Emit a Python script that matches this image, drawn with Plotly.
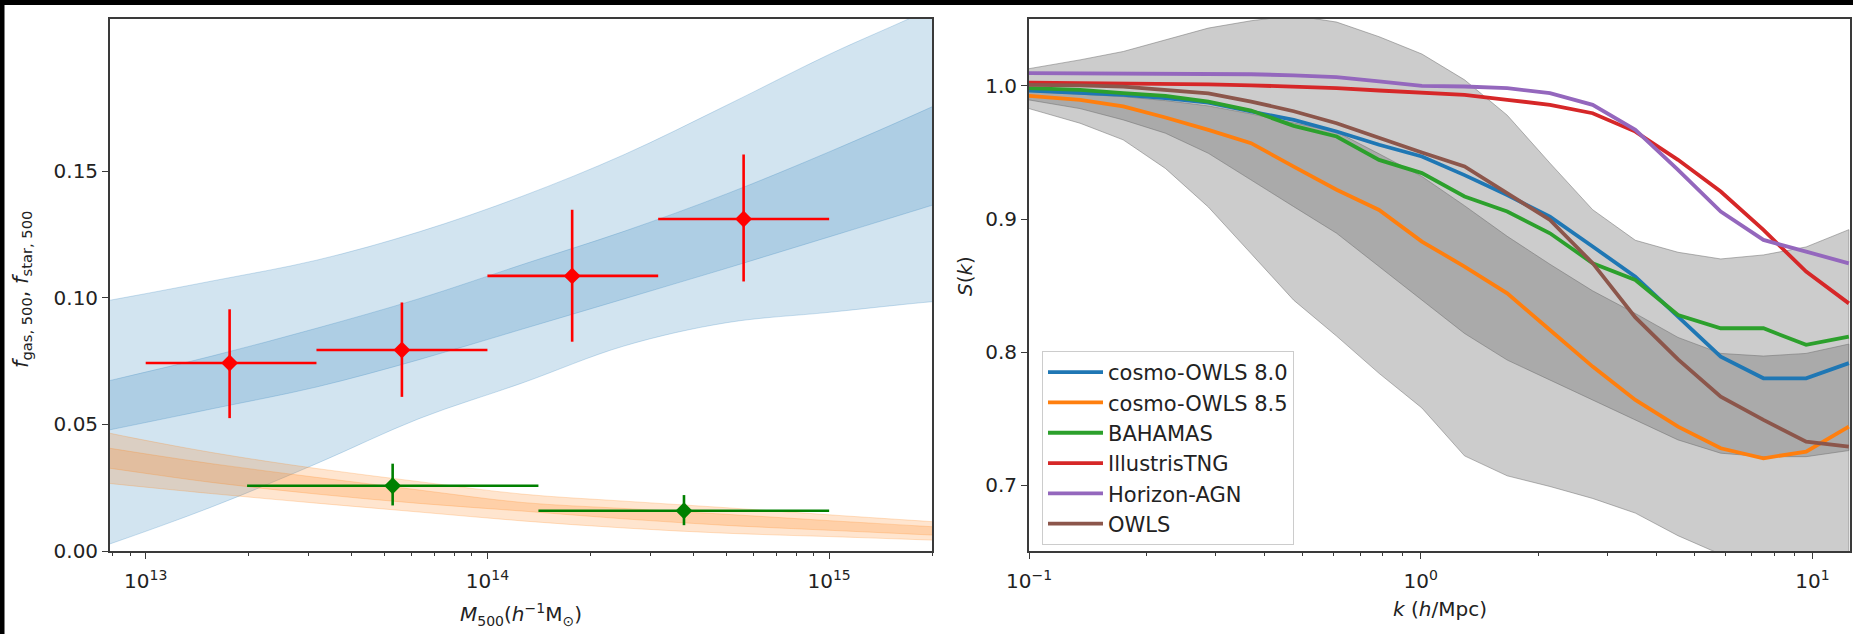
import plotly.graph_objects as go

# ---------------- left panel: gas and stellar mass fractions ----------------
band_mass = [5.0e12, 7.94e12, 1.58e13, 3.16e13, 6.31e13, 1.26e14, 2.51e14, 5.01e14,
             1.00e15, 2.00e15, 3.16e15]
gas_outer_hi = [0.0945, 0.0992, 0.1068, 0.1149, 0.1261, 0.1401, 0.1566, 0.1761, 0.1962, 0.2146, 0.2290]
gas_outer_lo = [-0.0060, 0.0030, 0.0177, 0.0345, 0.0523, 0.0663, 0.0810, 0.0902, 0.0943, 0.0985, 0.1005]
gas_inner_hi = [0.0612, 0.0675, 0.0772, 0.0880, 0.0997, 0.1131, 0.1263, 0.1411, 0.1577, 0.1755, 0.1880]
gas_inner_lo = [0.0425, 0.0480, 0.0563, 0.0648, 0.0756, 0.0876, 0.0996, 0.1117, 0.1241, 0.1366, 0.1450]
star_outer_hi = [0.0525, 0.0464, 0.0388, 0.0326, 0.0274, 0.0225, 0.0197, 0.0171, 0.0143, 0.0116, 0.0098]
star_inner_hi = [0.0450, 0.0405, 0.0344, 0.0291, 0.0241, 0.0192, 0.0168, 0.0145, 0.0120, 0.0096, 0.0080]
star_inner_lo = [0.0365, 0.0326, 0.0270, 0.0225, 0.0188, 0.0158, 0.0127, 0.0101, 0.0082, 0.0063, 0.0050]
star_outer_lo = [0.0295, 0.0266, 0.0226, 0.0189, 0.0154, 0.0119, 0.0091, 0.0070, 0.0057, 0.0043, 0.0033]

gas_mass = [1.76e13, 5.62e13, 1.77e14, 5.62e14]
gas_mass_lo = [1.0e13, 3.16e13, 1.0e14, 3.16e14]
gas_mass_hi = [3.16e13, 1.0e14, 3.16e14, 1.0e15]
gas_frac = [0.0743, 0.0794, 0.1087, 0.1312]
gas_frac_lo = [0.0525, 0.0609, 0.0827, 0.1065]
gas_frac_hi = [0.0955, 0.0982, 0.1348, 0.1567]

star_mass = [5.28e13, 3.76e14]
star_mass_lo = [1.98e13, 1.41e14]
star_mass_hi = [1.41e14, 1.0e15]
star_frac = [0.0258, 0.0159]
star_frac_lo = [0.0180, 0.0102]
star_frac_hi = [0.0345, 0.0221]

# ---------------- right panel: power-spectrum suppression ----------------
k_vals = [0.100, 0.135, 0.174, 0.223, 0.287, 0.369, 0.474, 0.610, 0.783, 1.007,
          1.294, 1.663, 2.138, 2.748, 3.532, 4.539, 5.834, 7.499, 9.638, 12.39]
s_outer_hi = [1.013, 1.0196, 1.0259, 1.0347, 1.0435, 1.049, 1.053, 1.048, 1.037, 1.024,
              1.0046, 0.978, 0.942, 0.907, 0.884, 0.875, 0.870, 0.873, 0.879, 0.892]
s_outer_lo = [0.983, 0.972, 0.9595, 0.938, 0.909, 0.874, 0.839, 0.812, 0.784, 0.758,
              0.722, 0.707, 0.699, 0.690, 0.679, 0.662, 0.648, 0.638, 0.628, 0.620]
s_inner_hi = [0.996, 0.994, 0.992, 0.989, 0.985, 0.979, 0.972, 0.9655, 0.949, 0.932,
              0.910, 0.887, 0.866, 0.846, 0.829, 0.811, 0.799, 0.797, 0.799, 0.806]
s_inner_lo = [0.9895, 0.983, 0.9745, 0.9645, 0.9494, 0.9294, 0.9093, 0.8893, 0.8643, 0.839,
              0.814, 0.794, 0.779, 0.764, 0.749, 0.734, 0.724, 0.7214, 0.7214, 0.726]

sim_names = ["cosmo-OWLS 8.0", "cosmo-OWLS 8.5", "BAHAMAS", "IllustrisTNG", "Horizon-AGN", "OWLS"]
sim_colors = ["#1f77b4", "#ff7f0e", "#2ca02c", "#d62728", "#9467bd", "#8c564b"]
cosmo_owls_80 = [0.9965, 0.995, 0.9933, 0.9908, 0.9875, 0.9808, 0.9745, 0.9658, 0.9558, 0.947,
                 0.933, 0.918, 0.9018, 0.8793, 0.8567, 0.8267, 0.7966, 0.7803, 0.7803, 0.7917]
cosmo_owls_85 = [0.9925, 0.9896, 0.9846, 0.9763, 0.967, 0.957, 0.9394, 0.922, 0.9068, 0.883,
                 0.8643, 0.8442, 0.8166, 0.7891, 0.764, 0.744, 0.7277, 0.7202, 0.7252, 0.7439]
bahamas = [0.9983, 0.997, 0.9946, 0.9925, 0.9883, 0.9815, 0.970, 0.962, 0.9444, 0.9345,
           0.9169, 0.9056, 0.8893, 0.8668, 0.8542, 0.8279, 0.8179, 0.8179, 0.8054, 0.8116]
illustris_tng = [1.0025, 1.0023, 1.002, 1.0016, 1.0012, 1.0005, 0.9995, 0.9983, 0.9966, 0.995,
                 0.9933, 0.9896, 0.9858, 0.9795, 0.9657, 0.9445, 0.9207, 0.8918, 0.8605, 0.8366]
horizon_agn = [1.0096, 1.0095, 1.0094, 1.0093, 1.009, 1.0088, 1.008, 1.0066, 1.0035, 1.0,
               0.9996, 0.9983, 0.9946, 0.9858, 0.967, 0.937, 0.9056, 0.8843, 0.8755, 0.8667]
owls = [1.0008, 1.0005, 0.9995, 0.997, 0.9945, 0.9883, 0.981, 0.972, 0.9607, 0.950,
        0.9395, 0.9194, 0.8993, 0.8668, 0.826, 0.7945, 0.7665, 0.749, 0.7326, 0.7289]
sim_curves = [cosmo_owls_80, cosmo_owls_85, bahamas, illustris_tng, horizon_agn, owls]

FONT = "DejaVu Sans"
W, H = 1853, 634


def band(x, lo, hi, fill, edge, xa, ya, shape="linear"):
    return go.Scatter(
        x=list(x) + list(x)[::-1], y=list(hi) + list(lo)[::-1],
        fill="toself", fillcolor=fill, mode="lines",
        line=dict(color=edge, width=1, shape=shape),
        hoverinfo="skip", showlegend=False, xaxis=xa, yaxis=ya)


fig = go.Figure()

# gas fraction bands (blue) and stellar fraction bands (orange)
blue_fill = "rgba(31,119,180,0.2)"
blue_edge = "rgba(31,119,180,0.22)"
orange_fill = "rgba(255,127,14,0.2)"
orange_edge = "rgba(255,127,14,0.22)"
fig.add_trace(band(band_mass, gas_outer_lo, gas_outer_hi, blue_fill, blue_edge, "x", "y", "spline"))
fig.add_trace(band(band_mass, gas_inner_lo, gas_inner_hi, blue_fill, blue_edge, "x", "y", "spline"))
fig.add_trace(band(band_mass, star_outer_lo, star_outer_hi, orange_fill, orange_edge, "x", "y", "spline"))
fig.add_trace(band(band_mass, star_inner_lo, star_inner_hi, orange_fill, orange_edge, "x", "y", "spline"))


def points(m, m_lo, m_hi, f, f_lo, f_hi, color):
    return go.Scatter(
        x=m, y=f, mode="markers", xaxis="x", yaxis="y", showlegend=False,
        marker=dict(symbol="diamond", size=13, color=color, line=dict(width=0)),
        error_x=dict(type="data", symmetric=False,
                     array=[h - c for h, c in zip(m_hi, m)],
                     arrayminus=[c - l for c, l in zip(m, m_lo)],
                     color=color, thickness=2.6, width=0),
        error_y=dict(type="data", symmetric=False,
                     array=[h - c for h, c in zip(f_hi, f)],
                     arrayminus=[c - l for c, l in zip(f, f_lo)],
                     color=color, thickness=2.6, width=0))


fig.add_trace(points(gas_mass, gas_mass_lo, gas_mass_hi, gas_frac, gas_frac_lo, gas_frac_hi, "#ff0000"))
fig.add_trace(points(star_mass, star_mass_lo, star_mass_hi, star_frac, star_frac_lo, star_frac_hi, "#008000"))

# simulation spread bands (gray)
fig.add_trace(band(k_vals, s_outer_lo, s_outer_hi, "rgba(128,128,128,0.4)", "rgba(110,110,110,0.5)", "x2", "y2"))
fig.add_trace(band(k_vals, s_inner_lo, s_inner_hi, "rgba(128,128,128,0.45)", "rgba(110,110,110,0.5)", "x2", "y2"))

for name, color, curve in zip(sim_names, sim_colors, sim_curves):
    fig.add_trace(go.Scatter(x=k_vals, y=curve, mode="lines", name=name,
                             line=dict(color=color, width=3.8),
                             xaxis="x2", yaxis="y2"))

# ---------------- axes ----------------
tick_font = dict(family=FONT, size=20, color="#222222")
spine = dict(showline=True, linecolor="#3a3a3a", linewidth=1.8, mirror=True,
             ticks="outside", ticklen=6, tickwidth=1.3, tickcolor="#3a3a3a",
             showgrid=False, zeroline=False, tickfont=tick_font, automargin=False)

y_dom = [83 / H, 615.5 / H]

mass_minor = [8e12, 9e12] + [m * 1e13 for m in range(2, 10)] + [m * 1e14 for m in range(2, 10)] + [2e15]
k_minor = [m * 0.1 for m in range(2, 10)] + [float(m) for m in range(2, 10)]

fig.update_layout(
    xaxis=dict(domain=[110 / W, 932 / W], type="log", range=[12.8955, 15.301],
               tickmode="array", tickvals=[1e13, 1e14, 1e15],
               ticktext=["10<sup>13</sup>", "10<sup>14</sup>", "10<sup>15</sup>"],
               minor=dict(tickmode="array", tickvals=mass_minor, ticks="outside",
                          ticklen=3.5, tickwidth=1, tickcolor="#3a3a3a"),
               ticklabelstandoff=5, anchor="y", **spine),
    yaxis=dict(domain=y_dom, range=[0, 0.2104], tickmode="array",
               tickvals=[0.0, 0.05, 0.10, 0.15], ticktext=["0.00", "0.05", "0.10", "0.15"],
               anchor="x", **spine),
    xaxis2=dict(domain=[1029 / W, 1850 / W], type="log", range=[-1, 1.096],
                tickmode="array", tickvals=[0.1, 1, 10],
                ticktext=["10<sup>\u22121</sup>", "10<sup>0</sup>", "10<sup>1</sup>"],
                minor=dict(tickmode="array", tickvals=k_minor, ticks="outside",
                           ticklen=3.5, tickwidth=1, tickcolor="#3a3a3a"),
                ticklabelstandoff=5, anchor="y2", **spine),
    yaxis2=dict(domain=y_dom, range=[0.6505, 1.0507], tickmode="array",
                tickvals=[0.7, 0.8, 0.9, 1.0], ticktext=["0.7", "0.8", "0.9", "1.0"],
                anchor="x2", **spine),
)

title_font = dict(family=FONT, size=20, color="#222222")
annotations = [
    dict(text="<i>M</i><sub>500</sub>(<i>h</i><sup>\u22121</sup>M<sub>\u2299</sub>)",
         x=521 / W, y=(H - 614) / H, xref="paper", yref="paper",
         xanchor="center", yanchor="middle", showarrow=False, font=title_font),
    dict(text="<i>f</i><sub>gas, 500</sub>, <i>f</i><sub>star, 500</sub>",
         x=22 / W, y=(H - 290) / H, xref="paper", yref="paper", textangle=-90,
         xanchor="center", yanchor="middle", showarrow=False,
         font=dict(family=FONT, size=21, color="#222222")),
    dict(text="<i>k</i> (<i>h</i>/Mpc)",
         x=1439.5 / W, y=(H - 609) / H, xref="paper", yref="paper",
         xanchor="center", yanchor="middle", showarrow=False, font=title_font),
    dict(text="<i>S</i>(<i>k</i>)",
         x=965 / W, y=(H - 276) / H, xref="paper", yref="paper", textangle=-90,
         xanchor="center", yanchor="middle", showarrow=False, font=title_font),
]

shapes = [
    dict(type="rect", xref="paper", yref="paper", x0=0, x1=1, y0=1 - 5 / H, y1=1,
         fillcolor="black", line=dict(width=0), layer="above"),
    dict(type="rect", xref="paper", yref="paper", x0=0, x1=4.5 / W, y0=0, y1=1,
         fillcolor="black", line=dict(width=0), layer="above"),
]

fig.update_layout(
    width=W, height=H,
    margin=dict(l=0, r=0, t=0, b=0, autoexpand=False),
    paper_bgcolor="white", plot_bgcolor="white",
    font=dict(family=FONT, size=20, color="#222222"),
    annotations=annotations, shapes=shapes,
    legend=dict(x=1042 / W, y=(H - 351) / H, xanchor="left", yanchor="top",
                bgcolor="rgba(255,255,255,0.85)", bordercolor="#cccccc", borderwidth=1,
                font=dict(family=FONT, size=21, color="#222222"),
                tracegroupgap=0, itemwidth=55),
    showlegend=True,
)

fig.write_html("out.html")
